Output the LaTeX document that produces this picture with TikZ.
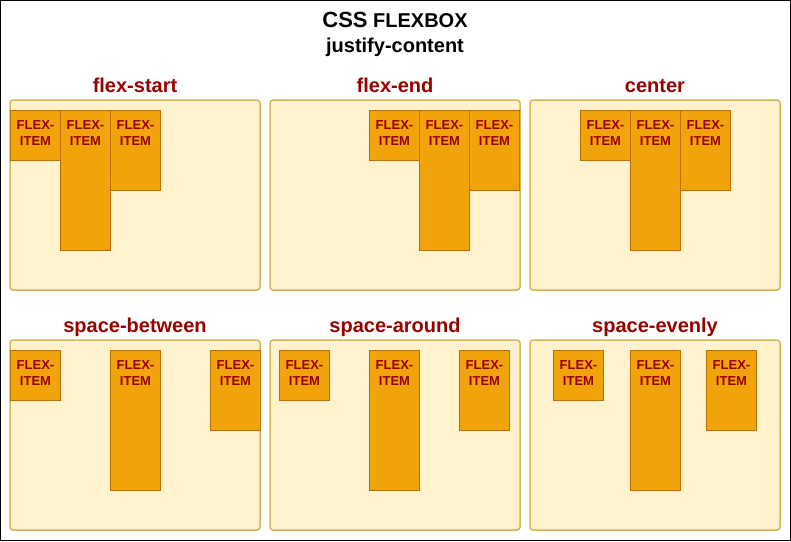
\documentclass[tikz,border=0pt]{standalone}
\usepackage{fontspec}
\setmainfont{Liberation Sans}
\definecolor{cfill}{HTML}{FFF2CC}
\definecolor{cstroke}{HTML}{D6B656}
\definecolor{ifill}{HTML}{F0A30A}
\definecolor{istroke}{HTML}{BD7000}
\definecolor{tred}{HTML}{990000}
\tikzset{
  box/.style={draw=cstroke, fill=cfill, line width=1.5pt, rounded corners=3pt},
  item/.style={draw=istroke, fill=ifill, line width=1pt, minimum width=50pt, anchor=north west, inner sep=0pt, outer sep=0pt},
  itext/.style={text=tred, font=\bfseries\fontsize{13}{15.6}\selectfont, align=center, anchor=north, inner sep=0pt},
  ttl/.style={text=tred, font=\bfseries\fontsize{20}{24}\selectfont, anchor=base, inner sep=0pt},
  head/.style={text=black, font=\bfseries\fontsize{20}{24}\selectfont, anchor=base, inner sep=0pt},
}
\newcommand{\flexitem}[4]{%
  \node[item, minimum height=#4pt] (#1) at (#2,#3) {};
  \node[itext] (#1t) at ([yshift=-10pt]#1.north) {FLEX-\\ITEM};
}
\begin{document}
\begin{tikzpicture}[x=1pt,y=-1pt]
  \useasboundingbox (0,0) rectangle (791,541);
  \draw[line width=1pt] (0.5,0.5) rectangle (790.5,540.5);
  \node[head] (h1) at (395,27) {{\fontsize{22}{26}\selectfont CSS} FLEXBOX};
  \node[head] (h2) at (395,52) {justify-content};
  % containers
  \draw[box] (10,100) rectangle (260,290);
  \draw[box] (270,100) rectangle (520,290);
  \draw[box] (530,100) rectangle (780,290);
  \draw[box] (10,340) rectangle (260,530);
  \draw[box] (270,340) rectangle (520,530);
  \draw[box] (530,340) rectangle (780,530);
  % titles
  \node[ttl] (t1) at (135,92.5) {flex-start};
  \node[ttl] (t2) at (395,92.5) {flex-end};
  \node[ttl] (t3) at (655,92.5) {center};
  \node[ttl] (t4) at (135,332.5) {space-between};
  \node[ttl] (t5) at (395,332.5) {space-around};
  \node[ttl] (t6) at (655,332.5) {space-evenly};
  % items
  \flexitem{a1}{10.5}{110.5}{50}
  \flexitem{a2}{60.5}{110.5}{140}
  \flexitem{a3}{110.5}{110.5}{80}
  \flexitem{b1}{369.5}{110.5}{50}
  \flexitem{b2}{419.5}{110.5}{140}
  \flexitem{b3}{469.5}{110.5}{80}
  \flexitem{c1}{580.5}{110.5}{50}
  \flexitem{c2}{630.5}{110.5}{140}
  \flexitem{c3}{680.5}{110.5}{80}
  \flexitem{d1}{10.5}{350.5}{50}
  \flexitem{d2}{110.5}{350.5}{140}
  \flexitem{d3}{210.5}{350.5}{80}
  \flexitem{e1}{279.5}{350.5}{50}
  \flexitem{e2}{369.5}{350.5}{140}
  \flexitem{e3}{459.5}{350.5}{80}
  \flexitem{f1}{553.5}{350.5}{50}
  \flexitem{f2}{630.5}{350.5}{140}
  \flexitem{f3}{706.5}{350.5}{80}
\end{tikzpicture}
\end{document}
